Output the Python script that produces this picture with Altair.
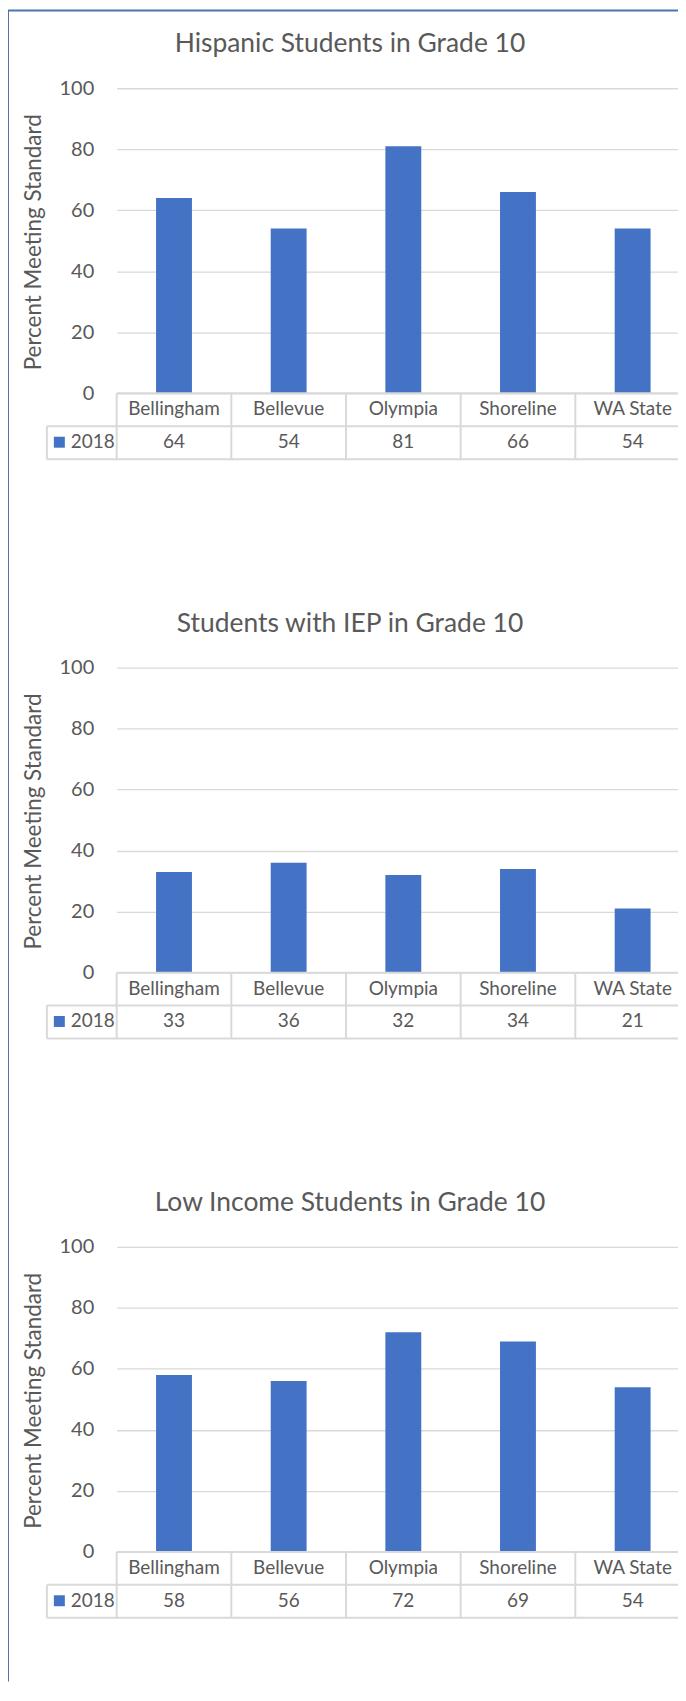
import altair as alt
import pandas as pd

# ---- data ----
categories = ["Bellingham", "Bellevue", "Olympia", "Shoreline", "WA State"]
titles = [
    "Hispanic Students in Grade 10",
    "Students with IEP in Grade 10",
    "Low Income Students in Grade 10",
]
hispanic = [64, 54, 81, 66, 54]
iep = [33, 36, 32, 34, 21]
low_income = [58, 56, 72, 69, 54]
series_label = "2018"
y_ticks = [0, 20, 40, 60, 80, 100]
y_title = "Percent Meeting Standard"

# ---- style ----
BAR = "#4472C4"
TXT = "#595959"
GRID = "#D9D9D9"
BORDER = "#4A76AA"
FONT = "Lato"
W = 575
H = 306
ROW = 33
PANEL_STEP = 581

one = pd.DataFrame({"k": [0], "series": [series_label]})


def rule(x, x2, y, y2, color=GRID, width=2):
    return alt.Chart(one).mark_rule(color=color, strokeWidth=width).encode(
        x=alt.value(x), x2=alt.value(x2), y=alt.value(y), y2=alt.value(y2)
    )


def panel(title, values, first):
    df = pd.DataFrame({"cat": categories, "val": values})
    base = alt.Chart(df)
    xscale = alt.Scale(paddingInner=0, paddingOuter=0)
    xenc = alt.X("cat:N", sort=categories, scale=xscale, axis=None)

    bars = base.mark_bar(size=36, color=BAR).encode(
        x=xenc,
        y=alt.Y(
            "val:Q",
            scale=alt.Scale(domain=[0, 100]),
            axis=alt.Axis(
                values=y_ticks,
                grid=True,
                gridColor=GRID,
                gridWidth=1.3,
                domain=False,
                ticks=False,
                labelFont=FONT,
                labelFontSize=20,
                labelColor=TXT,
                labelPadding=23,
                title=y_title,
                titleFont=FONT,
                titleFontSize=22.5,
                titleFontWeight="normal",
                titleColor=TXT,
                titleAngle=270,
                titleX=-76,
                titleY=H / 2 + 1,
                titleAlign="center",
                titleBaseline="alphabetic",
            ),
        ),
    )

    header = base.mark_text(font=FONT, fontSize=19, color=TXT, baseline="middle").encode(
        x=xenc, y=alt.value(H + 16), text="cat:N"
    )
    vals = base.mark_text(font=FONT, fontSize=19, color=TXT, baseline="middle").encode(
        x=xenc, y=alt.value(H + 49), text="val:Q"
    )
    vlines = base.mark_rule(color=GRID, strokeWidth=2).encode(
        x=alt.X("cat:N", sort=categories, scale=xscale, axis=None, bandPosition=0),
        y=alt.value(H),
        y2=alt.value(H + 2 * ROW),
    )

    legend_sq = alt.Chart(one).mark_square(size=121, color=BAR, filled=True, opacity=1).encode(
        x=alt.value(-57.5), y=alt.value(H + 49)
    )
    legend_tx = alt.Chart(one).mark_text(
        font=FONT, fontSize=19, color=TXT, baseline="middle", align="left"
    ).encode(x=alt.value(-46), y=alt.value(H + 49), text="series:N")

    title_mark = alt.Chart(one).mark_text(
        font=FONT, fontSize=26.5, color=TXT, baseline="alphabetic", align="center"
    ).encode(x=alt.value(234), y=alt.value(-36), text=alt.value(title))

    layers = [
        bars,
        rule(0, W, H, H),
        rule(-70, W, H + ROW, H + ROW),
        rule(-70, W, H + 2 * ROW, H + 2 * ROW),
        rule(-70, -70, H + ROW, H + 2 * ROW),
        vlines,
        header,
        vals,
        legend_sq,
        legend_tx,
        title_mark,
    ]
    if first:
        # outer frame: top edge and left edge running down the whole page
        layers.append(rule(-109, W, -78, -78, color=BORDER, width=2))
        layers.append(rule(-109, -109, -78, 1598, color=BORDER, width=2))
    return alt.layer(*layers).properties(width=W, height=H)


chart = alt.vconcat(
    panel(titles[0], hispanic, True),
    panel(titles[1], iep, False),
    panel(titles[2], low_income, False),
    spacing=PANEL_STEP - H,
    bounds="flush",
).configure_view(stroke=None).properties(
    padding={"left": -1, "top": -1, "right": -13, "bottom": 0}
)

chart.save("out.html", embed_options={"renderer": "svg", "actions": False})
